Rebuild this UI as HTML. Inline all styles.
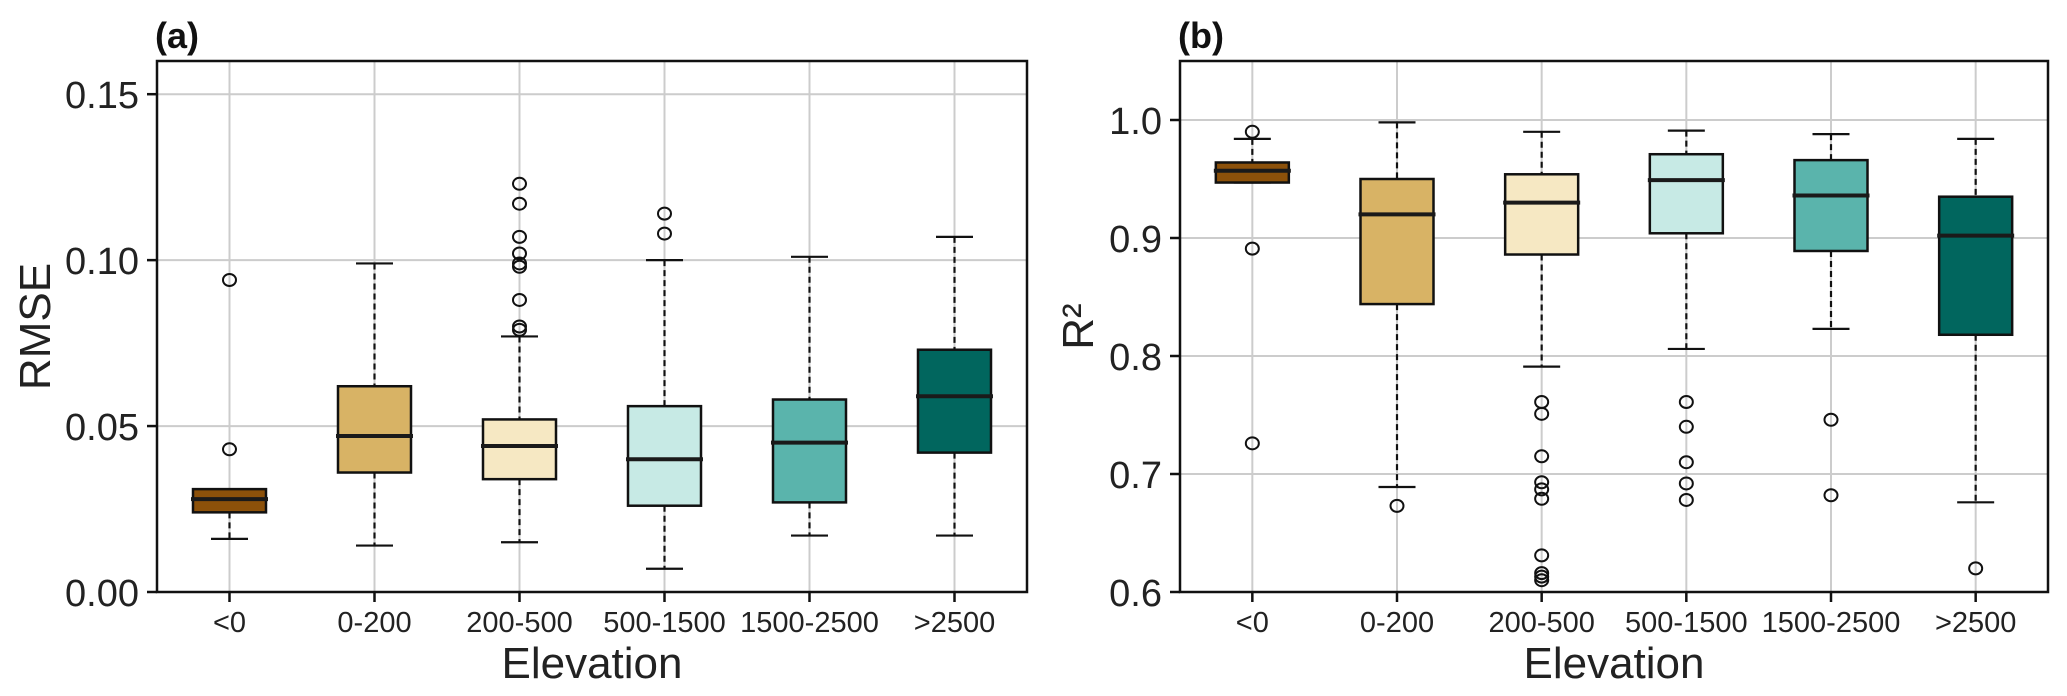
<!DOCTYPE html>
<html><head><meta charset="utf-8"><style>
html,body{margin:0;padding:0;background:#fff;}
svg{display:block;font-family:"Liberation Sans",Arial,sans-serif;}
</style></head>
<body>
<svg id="chart" width="2067" height="696" viewBox="0 0 2067 696" xmlns="http://www.w3.org/2000/svg"></svg>
<script>
const categories = ["<0","0-200","200-500","500-1500","1500-2500",">2500"];
const colors = ["#8c510a","#d8b365","#f6e8c3","#c7eae5","#5ab4ac","#01665e"];
// RMSE panel (a)
const rmseLow = [0.016,0.014,0.015,0.007,0.017,0.017];
const rmseQ1 = [0.024,0.036,0.034,0.026,0.027,0.042];
const rmseMed = [0.028,0.047,0.044,0.040,0.045,0.059];
const rmseQ3 = [0.031,0.062,0.052,0.056,0.058,0.073];
const rmseHigh = [0.031,0.099,0.077,0.100,0.101,0.107];
const rmseOut = [[0.043,0.094],[],[0.079,0.080,0.088,0.098,0.099,0.102,0.107,0.117,0.123],[0.108,0.114],[],[]];
const rmseTicks = [0.00,0.05,0.10,0.15];
// R2 panel (b)
const r2Low = [0.947,0.689,0.791,0.806,0.823,0.676];
const r2Q1 = [0.947,0.844,0.886,0.904,0.889,0.818];
const r2Med = [0.957,0.920,0.930,0.949,0.936,0.902];
const r2Q3 = [0.964,0.950,0.954,0.971,0.966,0.935];
const r2High = [0.984,0.998,0.990,0.991,0.988,0.984];
const r2Out = [[0.990,0.891,0.726],[0.673],[0.761,0.751,0.715,0.693,0.687,0.679,0.631,0.616,0.613,0.610],[0.761,0.740,0.710,0.692,0.678],[0.746,0.682],[0.620]];
const r2Ticks = [0.6,0.7,0.8,0.9,1.0];

const svg = document.getElementById('chart');
const NS = "http://www.w3.org/2000/svg";
function mk(tag, attrs, parent){
  const e = document.createElementNS(NS, tag);
  for (const k in attrs) e.setAttribute(k, attrs[k]);
  (parent||svg).appendChild(e);
  return e;
}
function panel(cfg){
  const {x0,x1,y0,y1,ymin,ymax,ticks,dec,low,q1,med,q3,high,out,label,ylabel,ylx,id} = cfg;
  const g = mk('g',{});
  
  
  const ys = v => y1 - (v-ymin)/(ymax-ymin)*(y1-y0);
  const step = (x1-x0)/categories.length;
  const xs = i => x0 + (i+0.5)*step;
  ticks.forEach(t=>{
    const l = mk('line',{x1:x0,x2:x1,y1:ys(t),y2:ys(t),stroke:'#cccccc','stroke-width':2},g);
    
    
  });
  categories.forEach((c,i)=>{
    const l = mk('line',{x1:xs(i),x2:xs(i),y1:y0,y2:y1,stroke:'#cccccc','stroke-width':2},g);
    
    
  });
  const bw = 73, cw = 37;
  categories.forEach((c,i)=>{
    const bg = mk('g',{},g);
    
    
    const cx = xs(i);
    mk('line',{x1:cx,x2:cx,y1:ys(high[i]),y2:ys(q3[i]),stroke:'#111','stroke-width':2.2,'stroke-dasharray':'6,4'},bg);
    mk('line',{x1:cx,x2:cx,y1:ys(q1[i]),y2:ys(low[i]),stroke:'#111','stroke-width':2.2,'stroke-dasharray':'6,4'},bg);
    mk('line',{x1:cx-cw/2,x2:cx+cw/2,y1:ys(high[i]),y2:ys(high[i]),stroke:'#111','stroke-width':2.2},bg);
    mk('line',{x1:cx-cw/2,x2:cx+cw/2,y1:ys(low[i]),y2:ys(low[i]),stroke:'#111','stroke-width':2.2},bg);
    mk('rect',{x:cx-bw/2,y:ys(q3[i]),width:bw,height:ys(q1[i])-ys(q3[i]),fill:colors[i],stroke:'#111','stroke-width':2.5},bg);
    mk('line',{x1:cx-bw/2-2,x2:cx+bw/2+2,y1:ys(med[i]),y2:ys(med[i]),stroke:'#1a1a1a','stroke-width':4},bg);
    out[i].forEach(v=>{
      const o = mk('ellipse',{cx:cx,cy:ys(v),rx:6.5,ry:6,fill:'none',stroke:'#111','stroke-width':2},bg);
      
      
    });
  });
  const f = mk('rect',{x:x0,y:y0,width:x1-x0,height:y1-y0,fill:'none',stroke:'#111','stroke-width':2.5},g);
  
  
  ticks.forEach(t=>{
    mk('line',{x1:x0-10,x2:x0,y1:ys(t),y2:ys(t),stroke:'#111','stroke-width':2.5},g);
    const tx = mk('text',{x:x0-18,y:ys(t)+14,'font-size':38,fill:'#222','text-anchor':'end'},g);
    tx.textContent = t.toFixed(dec);
    
    
  });
  categories.forEach((c,i)=>{
    mk('line',{x1:xs(i),x2:xs(i),y1:y1,y2:y1+10,stroke:'#111','stroke-width':2.5},g);
    const tx = mk('text',{x:xs(i),y:632,'font-size':29,fill:'#222','text-anchor':'middle'},g);
    tx.textContent = c;
    
    
  });
  const xt = mk('text',{x:(x0+x1)/2,y:678,'font-size':44,fill:'#222','text-anchor':'middle'},g);
  xt.textContent = 'Elevation';
  
  
  const yt = mk('text',{x:0,y:0,'font-size':44,fill:'#222','text-anchor':'middle',transform:`translate(${ylx},${(y0+y1)/2}) rotate(-90)`},g);
  yt.textContent = ylabel;
  
  
  const pl = mk('text',{x:x0-2,y:48,'font-size':36,'font-weight':'bold',fill:'#111'},g);
  pl.textContent = label;
  
  
}
panel({id:'rmse',x0:157,x1:1027,y0:61,y1:592,ymin:0,ymax:0.16,ticks:rmseTicks,dec:2,low:rmseLow,q1:rmseQ1,med:rmseMed,q3:rmseQ3,high:rmseHigh,out:rmseOut,label:'(a)',ylabel:'RMSE',ylx:50});
panel({id:'r2',x0:1180,x1:2048,y0:61,y1:592,ymin:0.6,ymax:1.05,ticks:r2Ticks,dec:1,low:r2Low,q1:r2Q1,med:r2Med,q3:r2Q3,high:r2High,out:r2Out,label:'(b)',ylabel:'R²',ylx:1093});
</script>
</body></html>
